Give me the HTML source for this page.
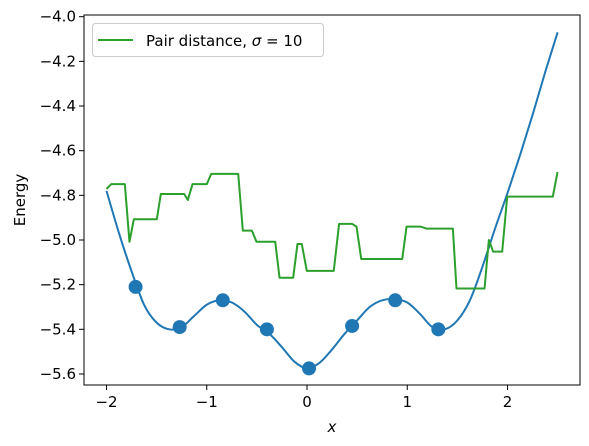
<!DOCTYPE html>
<html><head><meta charset="utf-8"><style>
body{margin:0;background:#fff}
svg{display:block;font-family:"DejaVu Sans","Liberation Sans",sans-serif}
</style></head><body>
<svg id="chart" width="589" height="446" viewBox="0 0 589 446" xmlns="http://www.w3.org/2000/svg"></svg>
<script>
// ---- data ----
const curveX = [-2,-1.875,-1.75,-1.625,-1.5,-1.375,-1.25,-1.125,-1,-0.875,-0.75,-0.625,-0.5,-0.375,-0.25,-0.125,0,0.125,0.25,0.375,0.5,0.625,0.75,0.875,1,1.125,1.25,1.375,1.5,1.625,1.75,1.875,2,2.125,2.25,2.375,2.5];
const curveY = [-4.78,-4.97,-5.14,-5.29,-5.37,-5.40,-5.39,-5.34,-5.29,-5.27,-5.28,-5.32,-5.38,-5.42,-5.48,-5.545,-5.575,-5.55,-5.49,-5.42,-5.36,-5.30,-5.27,-5.265,-5.28,-5.33,-5.39,-5.40,-5.36,-5.27,-5.12,-4.95,-4.79,-4.62,-4.44,-4.25,-4.07];
const pointX = [-1.71,-1.27,-0.84,-0.40,0.02,0.45,0.88,1.31];
const pointY = [-5.21,-5.39,-5.27,-5.40,-5.575,-5.385,-5.27,-5.40];
const stepX = [-2.0,-1.953,-1.817,-1.771,-1.727,-1.498,-1.458,-1.225,-1.189,-1.142,-0.999,-0.956,-0.686,-0.640,-0.550,-0.504,-0.317,-0.274,-0.138,-0.095,-0.052,-0.002,0.267,0.320,0.451,0.494,0.541,0.950,0.993,1.132,1.192,1.455,1.491,1.771,1.814,1.857,1.947,1.997,2.452,2.499];
const stepY = [-4.771,-4.750,-4.750,-5.008,-4.907,-4.907,-4.794,-4.794,-4.821,-4.750,-4.750,-4.704,-4.704,-4.958,-4.958,-5.008,-5.008,-5.169,-5.169,-5.018,-5.018,-5.138,-5.138,-4.928,-4.928,-4.940,-5.085,-5.085,-4.940,-4.940,-4.949,-4.949,-5.217,-5.217,-5.0,-5.052,-5.052,-4.806,-4.806,-4.696];
const xTicks = [-2,-1,0,1,2];
const xTickLabels = ["\u22122","\u22121","0","1","2"];
const yTicks = [-5.6,-5.4,-5.2,-5.0,-4.8,-4.6,-4.4,-4.2,-4.0];
const yTickLabels = ["\u22125.6","\u22125.4","\u22125.2","\u22125.0","\u22124.8","\u22124.6","\u22124.4","\u22124.2","\u22124.0"];
const legendLabel = "Pair distance, ";

// ---- axes ----
const L=84,R=580,T=15,B=385;
const sx=v=>307+v*100.25;
const sy=v=>16.7-(v+4.0)*223.3;
const NS="http://www.w3.org/2000/svg";
const svg=document.getElementById('chart');
function mk(tag,attrs,parent){const e=document.createElementNS(NS,tag);for(const k in attrs)e.setAttribute(k,attrs[k]);(parent||svg).appendChild(e);return e;}

const clip=mk('clipPath',{id:'pc'});mk('rect',{x:L,y:T,width:R-L,height:B-T},clip);

let pts=curveX.map((x,i)=>[sx(x),sy(curveY[i])]);
let d='M'+pts[0][0]+','+pts[0][1];
for(let i=0;i<pts.length-1;i++){const p0=pts[Math.max(0,i-1)],p1=pts[i],p2=pts[i+1],p3=pts[Math.min(pts.length-1,i+2)];
d+=' C'+(p1[0]+(p2[0]-p0[0])/6)+','+(p1[1]+(p2[1]-p0[1])/6)+' '+(p2[0]-(p3[0]-p1[0])/6)+','+(p2[1]-(p3[1]-p1[1])/6)+' '+p2[0]+','+p2[1];}
const curve=mk('path',{d:d,fill:'none',stroke:'#1f77b4','stroke-width':2,'clip-path':'url(#pc)'});



const step=mk('polyline',{points:stepX.map((x,i)=>sx(x)+','+sy(stepY[i])).join(' '),fill:'none',stroke:'#2ca02c','stroke-width':2,'stroke-linejoin':'round','clip-path':'url(#pc)'});



pointX.forEach((x,i)=>{const c=mk('circle',{cx:sx(x),cy:sy(pointY[i]),r:7,fill:'#1f77b4'});

});

const frame=mk('rect',{x:L,y:T,width:R-L,height:B-T,fill:'none',stroke:'#000','stroke-width':1});



xTicks.forEach((v,i)=>{const x=sx(v);mk('line',{x1:x,y1:B,x2:x,y2:B+5,stroke:'#000'});
const t=mk('text',{x:x,y:B+22,'text-anchor':'middle','font-size':15,fill:'#000'});t.textContent=xTickLabels[i];

});
yTicks.forEach((v,i)=>{const y=sy(v);mk('line',{x1:L-5,y1:y,x2:L,y2:y,stroke:'#000'});
const t=mk('text',{x:L-8,y:y+5,'text-anchor':'end','font-size':15,fill:'#000'});t.textContent=yTickLabels[i];

});

const xl=mk('text',{x:(L+R)/2,y:432,'text-anchor':'middle','font-size':15,'font-style':'italic'});xl.textContent='x';


const yl=mk('text',{x:0,y:0,'text-anchor':'middle','font-size':15,transform:'translate(25,200) rotate(-90)'});yl.textContent='Energy';



const lg=mk('g',{});


mk('rect',{x:92.5,y:23.5,width:231,height:33,rx:3,fill:'#fff','fill-opacity':0.8,stroke:'#ccc'},lg);
mk('line',{x1:98,y1:40,x2:133,y2:40,stroke:'#2ca02c','stroke-width':2},lg);
const lt=mk('text',{x:146,y:46,'font-size':15},lg);


lt.appendChild(document.createTextNode(legendLabel));
const ts=mk('tspan',{'font-style':'italic'},lt);ts.textContent='\u03c3';
lt.appendChild(document.createTextNode(' = 10'));
</script>
</body></html>
